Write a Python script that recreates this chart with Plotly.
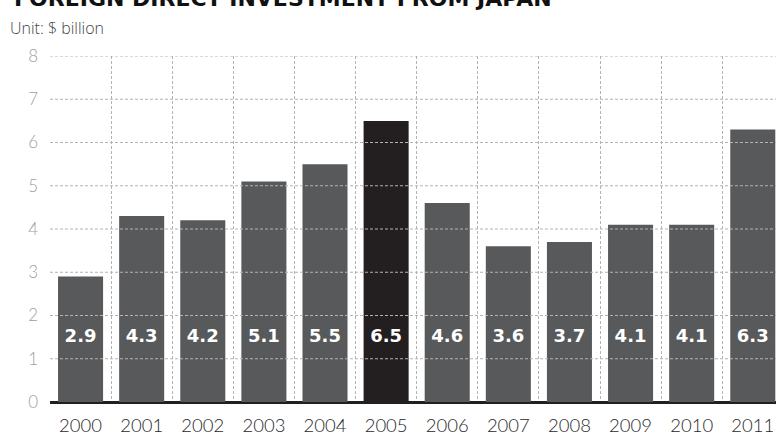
import plotly.graph_objects as go

years = ["2000", "2001", "2002", "2003", "2004", "2005", "2006", "2007", "2008", "2009", "2010", "2011"]
values = [2.9, 4.3, 4.2, 5.1, 5.5, 6.5, 4.6, 3.6, 3.7, 4.1, 4.1, 6.3]
highlight_year = "2005"
y_ticks = [0, 1, 2, 3, 4, 5, 6, 7, 8]
label_y = 1.5

title_text = "FOREIGN DIRECT INVESTMENT FROM JAPAN"
unit_text = "Unit: $ billion"

bar_colors = ["#231f20" if y == highlight_year else "#58595b" for y in years]

fig = go.Figure()
fig.add_trace(go.Bar(
    x=years, y=values, marker=dict(color=bar_colors, line=dict(width=0)),
    hoverinfo="skip", showlegend=False,
))
fig.add_trace(go.Scatter(
    x=years, y=[label_y] * len(years), mode="text",
    text=[f"{v:.1f}" for v in values],
    textfont=dict(family="DejaVu Sans", size=18, color="white", weight="bold"),
    textposition="middle center", hoverinfo="skip", showlegend=False,
))

grid_col = "#b3b3b3"
for v in y_ticks:
    if v == 0:
        continue
    fig.add_hline(y=v, line=dict(color=grid_col, width=1, dash="3px,2px"), layer="above")

pw = 776 - 50
ph = 437 - 56 - 35
y0px = 402.3

fig.update_layout(
    width=776, height=437,
    margin=dict(l=50, r=0, t=56, b=35),
    paper_bgcolor="white", plot_bgcolor="white",
    bargap=0.263,
    xaxis=dict(
        type="category", range=[-0.5, 11.38], tickson="boundaries",
        showgrid=True, gridcolor=grid_col, griddash="3px,2px", gridwidth=1,
        ticks="", showline=False, zeroline=False,
        tickfont=dict(family="Lato", size=18.5, color="#2a2a2a", weight=300),
        ticklabelstandoff=10,
    ),
    yaxis=dict(
        range=[0, 8], tickvals=y_ticks, showgrid=False,
        zeroline=True, zerolinecolor="#231f20", zerolinewidth=3,
        showline=False, ticks="",
        tickfont=dict(family="Lato", size=17, color="#a0a0a0", weight=300),
        ticklabelstandoff=11,
    ),
    annotations=[
        dict(text=title_text, x=(12 - 50) / pw, y=(y0px - 13.5) / ph,
             xref="paper", yref="paper", xanchor="left", yanchor="bottom",
             showarrow=False,
             font=dict(family="DejaVu Sans", size=22, color="#111111", weight="bold")),
        dict(text=unit_text, x=(8 - 50) / pw, y=(y0px - 28) / ph,
             xref="paper", yref="paper", xanchor="left", yanchor="middle",
             showarrow=False,
             font=dict(family="Open Sans", size=16, color="#444444", weight=300)),
    ],
)

fig.write_html("out.html")
